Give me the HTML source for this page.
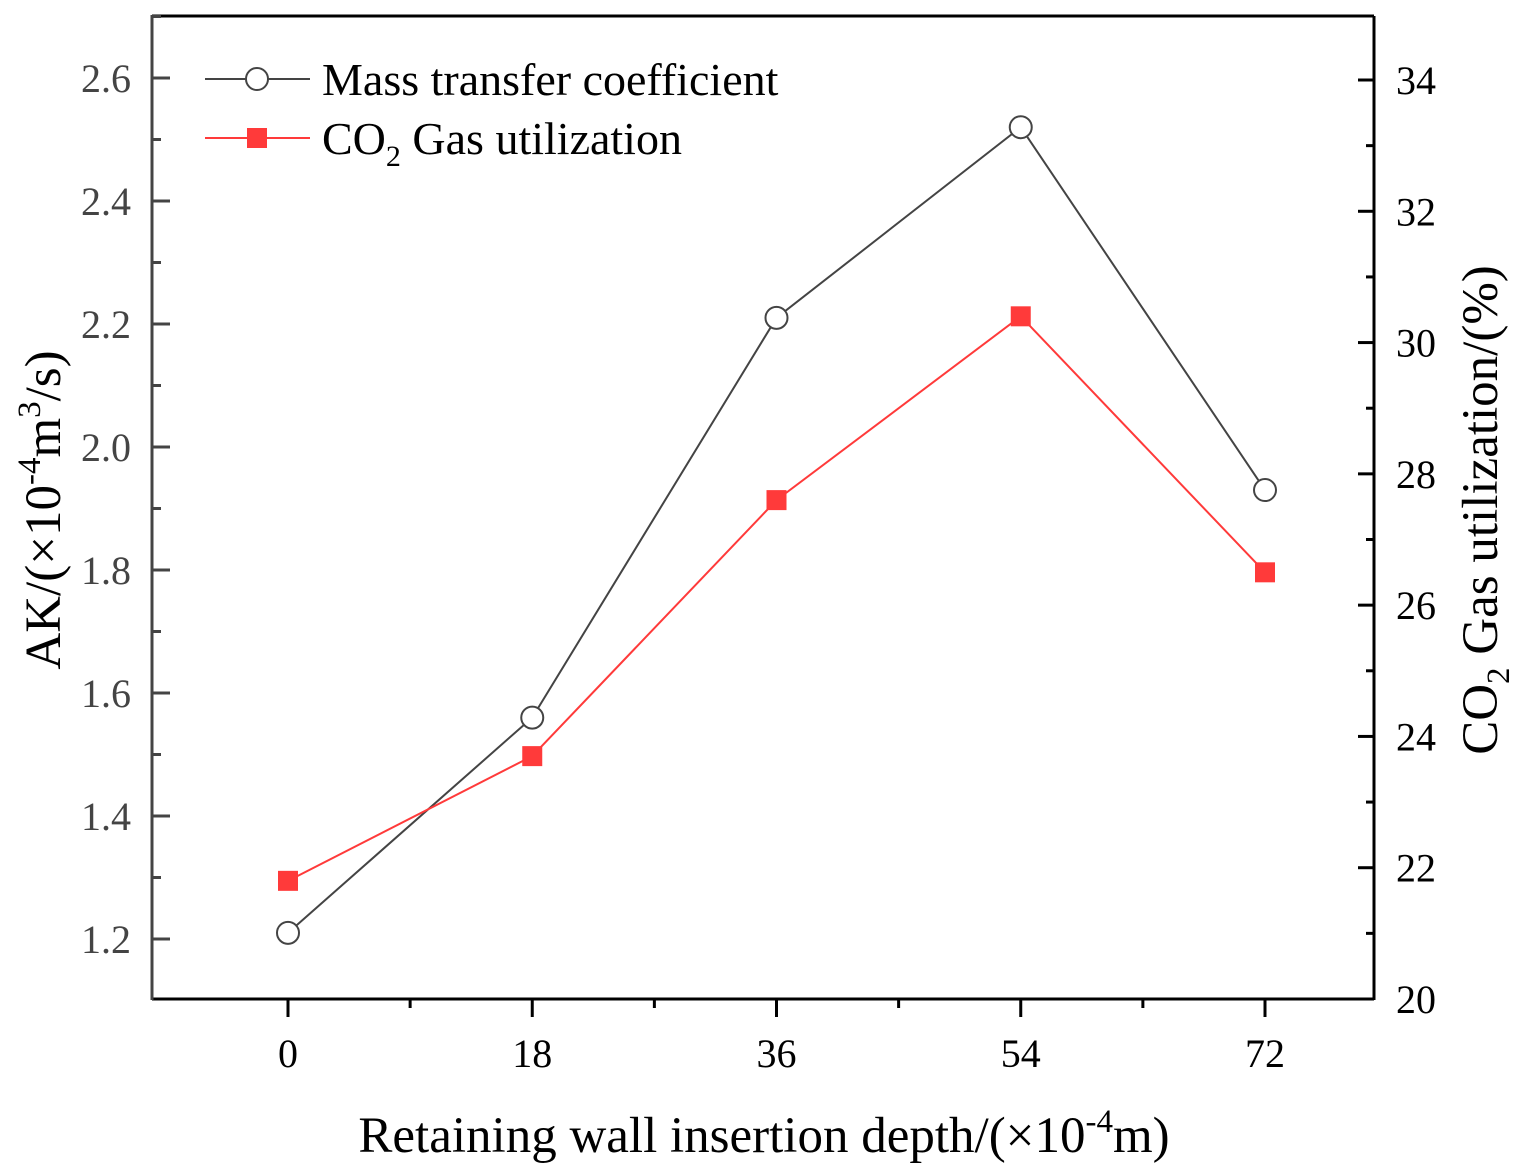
<!DOCTYPE html>
<html><head><meta charset="utf-8"><style>
html,body{margin:0;padding:0;background:#fff;}
svg{display:block;font-family:"Liberation Serif",serif;}
</style></head><body>
<svg id="chart" width="1521" height="1171" viewBox="0 0 1521 1171">
<g id="axes"></g>
<g id="series"></g>
<g id="legend">
  <line x1="205" y1="79" x2="310" y2="79" stroke="#444" stroke-width="2"/>
  <circle cx="257" cy="79" r="11" fill="#fff" stroke="#444" stroke-width="2"/>
  <text x="322" y="95" font-size="46" fill="#000">Mass transfer coefficient</text>
  <line x1="205" y1="138" x2="310" y2="138" stroke="#ff3a3a" stroke-width="2"/>
  <rect x="247" y="128" width="20" height="20" fill="#ff3a3a"/>
  <text x="322" y="154" font-size="46" fill="#000">CO<tspan font-size="30" dy="12">2</tspan><tspan dy="-12"> Gas utilization</tspan></text>
</g>
<text x="764" y="1152" font-size="51" text-anchor="middle">Retaining wall insertion depth/(×10<tspan font-size="33" dy="-20">-4</tspan><tspan dy="20">m)</tspan></text>
<text transform="translate(60,510) rotate(-90)" font-size="51" text-anchor="middle">AK/(×10<tspan font-size="33" dy="-20">-4</tspan><tspan dy="20">m</tspan><tspan font-size="33" dy="-20">3</tspan><tspan dy="20">/s)</tspan></text>
<text transform="translate(1497,510) rotate(-90)" font-size="51" text-anchor="middle">CO<tspan font-size="33" dy="12">2</tspan><tspan dy="-12"> Gas utilization/(%)</tspan></text>
</svg>
<script>
const categories = [0, 18, 36, 54, 72];
const massTransfer = [1.21, 1.56, 2.21, 2.52, 1.93];
const co2Utilization = [21.8, 23.7, 27.6, 30.4, 26.5];
const leftTicks = [1.2, 1.4, 1.6, 1.8, 2.0, 2.2, 2.4, 2.6];
const rightTicks = [20, 22, 24, 26, 28, 30, 32, 34];

const L=152, R=1374, T=16, B=999;
const NS="http://www.w3.org/2000/svg";
const xS = v => 288 + (v-0)*(1265-288)/72;
const yL = v => 939 - (v-1.2)*(939-78)/1.4;
const yR = v => 999 - (v-20)*(999-80)/14;

function mk(tag, attrs, parent){const e=document.createElementNS(NS,tag);for(const k in attrs)e.setAttribute(k,attrs[k]);parent.appendChild(e);return e;}
const axes=document.getElementById('axes'), series=document.getElementById('series');

let e;
e=mk('line',{x1:L,y1:T,x2:R,y2:T,stroke:'#000','stroke-width':3},axes);


e=mk('line',{x1:L,y1:B,x2:R,y2:B,stroke:'#000','stroke-width':3},axes);


e=mk('line',{x1:R,y1:T,x2:R,y2:B+1,stroke:'#000','stroke-width':3},axes);


e=mk('line',{x1:L,y1:T-1,x2:L,y2:B+1,stroke:'#444','stroke-width':3},axes);



categories.forEach((c,i)=>{
  const x=xS(c);
  mk('line',{x1:x,y1:B,x2:x,y2:B+18,stroke:'#000','stroke-width':3},axes);
  const t=mk('text',{x:x,y:1067,'font-size':40,'text-anchor':'middle'},axes);
  t.textContent=c;
  
  
  if(i<categories.length-1){const xm=xS(c+9);mk('line',{x1:xm,y1:B,x2:xm,y2:B+9,stroke:'#000','stroke-width':3},axes);}
});
leftTicks.forEach(v=>{
  const y=yL(v);
  mk('line',{x1:L,y1:y,x2:L+18,y2:y,stroke:'#444','stroke-width':3},axes);
  const t=mk('text',{x:131,y:y+14,'font-size':40,'text-anchor':'end',fill:'#444'},axes);
  t.textContent=v.toFixed(1);
  
  
});
for(let v=1.1; v<2.71; v+=0.2){const y=yL(v); if(y>T&&y<B) mk('line',{x1:L,y1:y,x2:L+9,y2:y,stroke:'#444','stroke-width':3},axes);}
rightTicks.forEach(v=>{
  const y=yR(v);
  mk('line',{x1:R,y1:y,x2:R-16,y2:y,stroke:'#000','stroke-width':3},axes);
  const t=mk('text',{x:1396,y:y+14,'font-size':40,'text-anchor':'start'},axes);
  t.textContent=v;
  
  
});
for(let v=21; v<35; v+=2){const y=yR(v); mk('line',{x1:R,y1:y,x2:R-8,y2:y,stroke:'#000','stroke-width':3},axes);}

const mPts=categories.map((c,i)=>xS(c)+','+yL(massTransfer[i])).join(' ');
e=mk('polyline',{points:mPts,fill:'none',stroke:'#444','stroke-width':2},series);


const cPts=categories.map((c,i)=>xS(c)+','+yR(co2Utilization[i])).join(' ');
e=mk('polyline',{points:cPts,fill:'none',stroke:'#ff3a3a','stroke-width':2},series);


categories.forEach((c,i)=>{
  const p=mk('circle',{cx:xS(c),cy:yL(massTransfer[i]),r:11,fill:'#fff',stroke:'#444','stroke-width':2},series);
  
  
  const s=mk('rect',{x:xS(c)-10,y:yR(co2Utilization[i])-10,width:20,height:20,fill:'#ff3a3a'},series);
  
  
});
</script>
</body></html>
